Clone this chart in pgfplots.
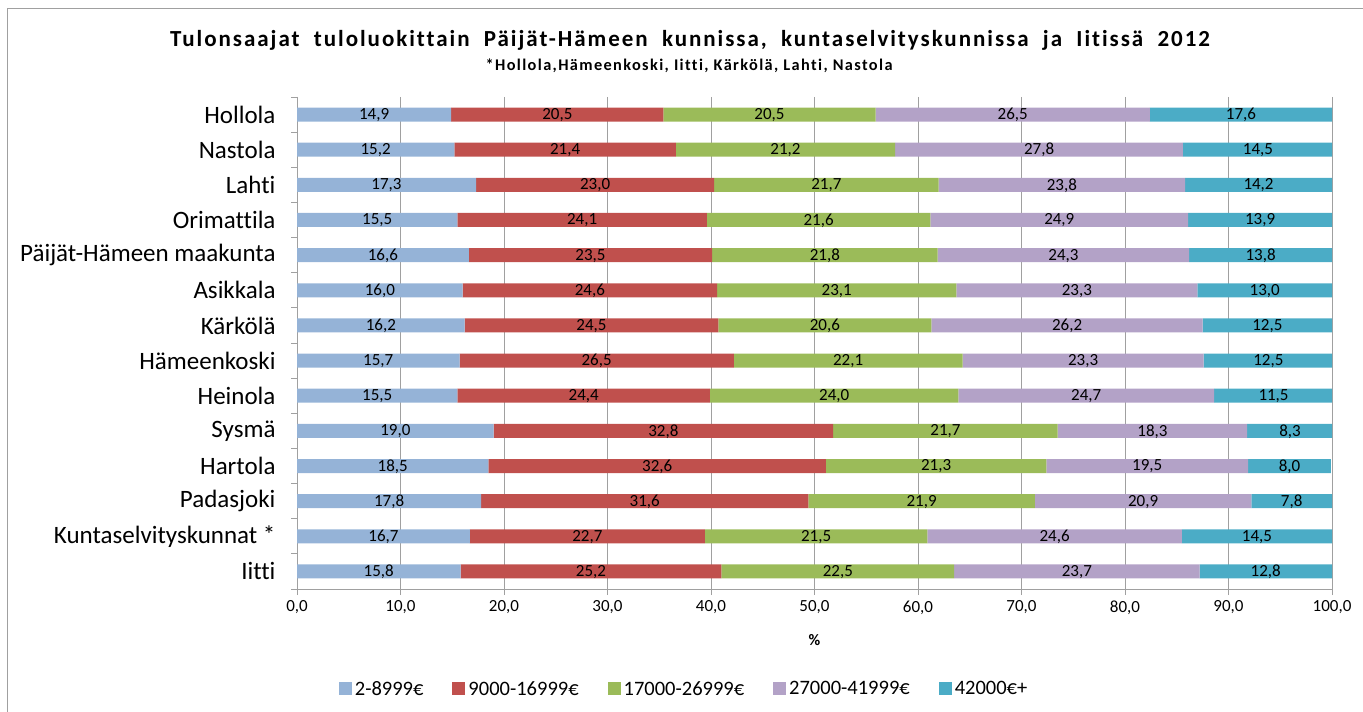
\documentclass[border=0pt]{standalone}
\usepackage{fontspec}
\setmainfont{Carlito}[Ligatures=NoCommon]
\newfontfamily\titlefont[LetterSpace=8.5, Ligatures=NoCommon]{Carlito}
\usepackage{pgfplots}
\usepackage{pgfplotstable}
\pgfplotsset{compat=1.18}
\definecolor{c1}{HTML}{95B3D7}
\definecolor{c2}{HTML}{C0504D}
\definecolor{c3}{HTML}{9BBB59}
\definecolor{c4}{HTML}{B3A2C7}
\definecolor{c5}{HTML}{4BACC6}
\definecolor{gridgray}{HTML}{A0A0A0}

\pgfplotstableread[col sep=comma]{
name,a,b,c,d,e
Hollola,14.9,20.5,20.5,26.5,17.6
Nastola,15.2,21.4,21.2,27.8,14.5
Lahti,17.3,23.0,21.7,23.8,14.2
Orimattila,15.5,24.1,21.6,24.9,13.9
Päijät-Hämeen maakunta,16.6,23.5,21.8,24.3,13.8
Asikkala,16.0,24.6,23.1,23.3,13.0
Kärkölä,16.2,24.5,20.6,26.2,12.5
Hämeenkoski,15.7,26.5,22.1,23.3,12.5
Heinola,15.5,24.4,24.0,24.7,11.5
Sysmä,19.0,32.8,21.7,18.3,8.3
Hartola,18.5,32.6,21.3,19.5,8.0
Padasjoki,17.8,31.6,21.9,20.9,7.8
Kuntaselvityskunnat *,16.7,22.7,21.5,24.6,14.5
Iitti,15.8,25.2,22.5,23.7,12.8
}\datatable
% label positions: middle of each stacked segment
\pgfplotstablecreatecol[create col/expr={\thisrow{a}/2}]{pa}\datatable
\pgfplotstablecreatecol[create col/expr={\thisrow{a}+\thisrow{b}/2}]{pb}\datatable
\pgfplotstablecreatecol[create col/expr={\thisrow{a}+\thisrow{b}+\thisrow{c}/2}]{pc}\datatable
\pgfplotstablecreatecol[create col/expr={\thisrow{a}+\thisrow{b}+\thisrow{c}+\thisrow{d}/2}]{pd}\datatable
\pgfplotstablecreatecol[create col/expr={\thisrow{a}+\thisrow{b}+\thisrow{c}+\thisrow{d}+\thisrow{e}/2}]{pe}\datatable

\pgfplotsset{
  seglabel/.style={sharp plot, draw=none, mark=none,
    point meta=explicit,
    nodes near coords={\pgfmathprintnumber[fixed,fixed zerofill,precision=1,use comma,assume math mode=true]{\pgfplotspointmeta}},
    nodes near coords align=center,
    every node near coord/.append style={font=\fontsize{17bp}{19bp}\selectfont, text=black, anchor=center, inner sep=0pt, yshift=-0.5bp}},
  samegeom/.style={at={(297bp,122bp)}, anchor=south west, scale only axis,
    width=1035bp, height=492bp, xmin=0, xmax=100, ymin=-0.5, ymax=13.5, y dir=reverse},
}

\begin{document}
\begin{tikzpicture}[x=1bp,y=1bp]
\useasboundingbox (0,0) rectangle (1363,711);
\draw[gridgray, line width=1bp] (7,-10) rectangle (1380,702);
\node[font=\titlefont\bfseries\fontsize{23bp}{27bp}\selectfont] at (690,671) {Tulonsaajat\ \ tuloluokittain\ \ Päijät-Hämeen\ \ kunnissa,\ \ kuntaselvityskunnissa\ \ ja\ \ Iitissä\ \ 2012};
\node[font=\titlefont\bfseries\fontsize{16.3bp}{19bp}\selectfont] at (689,645) {*Hollola,Hämeenkoski, Iitti, Kärkölä, Lahti, Nastola};
\begin{axis}[
  samegeom,
  xbar stacked,
  bar width=14bp,
  xtick={0,10,...,100},
  ytick={0,...,13},
  yticklabels from table={\datatable}{name},
  minor ytick={-0.5,0.5,...,13.5},
  axis x line*=bottom,
  axis y line*=left,
  axis line style={gridgray, line width=0.8bp, -},
  xmajorgrids,
  grid style={gridgray, line width=0.8bp},
  major y tick style={draw=none},
  minor y tick style={gridgray, line width=0.8bp},
  major x tick style={gridgray, line width=0.8bp},
  tick align=outside,
  major tick length=6bp,
  minor tick length=6bp,
  /pgf/number format/assume math mode=true,
  xticklabel style={font=\fontsize{17bp}{19bp}\selectfont, yshift=-2bp, /pgf/number format/.cd, fixed, fixed zerofill, precision=1, use comma},
  yticklabel style={font=\fontsize{25bp}{28bp}\selectfont, xshift=-12bp},
  xlabel={\%},
  xlabel style={font=\bfseries\fontsize{16bp}{18bp}\selectfont, at={(axis description cs:0.5,-0.104)}, anchor=center},
  legend style={at={(0.374,-0.203)}, anchor=center, draw=none, font=\fontsize{20.5bp}{23bp}\selectfont, legend columns=5, /tikz/every even column/.append style={column sep=27bp}, /tikz/every odd column/.append style={column sep=1bp}},
]
\addplot[fill=c1, draw=none, legend image code/.code={\fill[c1] (0bp,-6.5bp) rectangle (13bp,6.5bp);}] table[x=a, y expr=\coordindex] {\datatable};
\addplot[fill=c2, draw=none, legend image code/.code={\fill[c2] (0bp,-6.5bp) rectangle (13bp,6.5bp);}] table[x=b, y expr=\coordindex] {\datatable};
\addplot[fill=c3, draw=none, legend image code/.code={\fill[c3] (0bp,-6.5bp) rectangle (13bp,6.5bp);}] table[x=c, y expr=\coordindex] {\datatable};
\addplot[fill=c4, draw=none, legend image code/.code={\fill[c4] (0bp,-6.5bp) rectangle (13bp,6.5bp);}] table[x=d, y expr=\coordindex] {\datatable};
\addplot[fill=c5, draw=none, legend image code/.code={\fill[c5] (0bp,-6.5bp) rectangle (13bp,6.5bp);}] table[x=e, y expr=\coordindex] {\datatable};
\legend{2-8999€, 9000-16999€, 17000-26999€, 27000-41999€, 42000€+}
\end{axis}
\begin{axis}[samegeom, hide axis, clip=false]
\addplot[seglabel] table[x=pa, y expr=\coordindex, meta=a] {\datatable};
\addplot[seglabel] table[x=pb, y expr=\coordindex, meta=b] {\datatable};
\addplot[seglabel] table[x=pc, y expr=\coordindex, meta=c] {\datatable};
\addplot[seglabel] table[x=pd, y expr=\coordindex, meta=d] {\datatable};
\addplot[seglabel] table[x=pe, y expr=\coordindex, meta=e] {\datatable};
\end{axis}
\end{tikzpicture}
\end{document}
